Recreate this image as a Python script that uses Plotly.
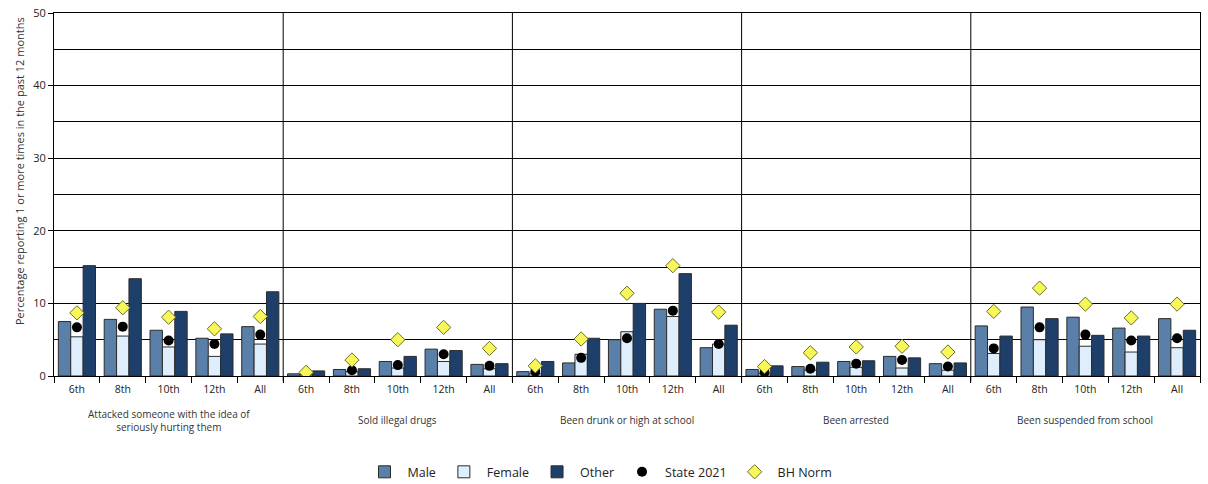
import plotly.graph_objects as go

PANELS = ["Attacked someone with the idea of<br>seriously hurting them", "Sold illegal drugs",
          "Been drunk or high at school", "Been arrested", "Been suspended from school"]
GRADES = ["6th", "8th", "10th", "12th", "All"]

MALE = [7.5, 7.8, 6.3, 5.2, 6.8,
        0.3, 0.9, 2.0, 3.7, 1.6,
        0.6, 1.8, 5.0, 9.2, 3.9,
        0.9, 1.3, 2.0, 2.7, 1.7,
        6.9, 9.5, 8.1, 6.6, 7.9]
FEMALE = [5.4, 5.5, 4.0, 2.7, 4.4,
          0.2, 0.6, 1.1, 2.0, 1.0,
          0.3, 3.0, 6.1, 8.2, 4.4,
          0.3, 0.8, 1.2, 1.1, 0.8,
          3.1, 5.0, 4.1, 3.3, 3.9]
OTHER = [15.2, 13.4, 8.9, 5.8, 11.6,
         0.7, 1.0, 2.7, 3.5, 1.7,
         2.0, 5.2, 10.0, 14.1, 7.0,
         1.4, 1.9, 2.1, 2.5, 1.8,
         5.5, 7.9, 5.6, 5.5, 6.3]
STATE_2021 = [6.7, 6.8, 4.9, 4.4, 5.7,
              0.4, 0.8, 1.5, 3.0, 1.4,
              0.6, 2.5, 5.2, 9.0, 4.4,
              0.5, 1.0, 1.7, 2.2, 1.3,
              3.8, 6.7, 5.7, 4.9, 5.2]
BH_NORM = [8.7, 9.4, 8.1, 6.5, 8.2,
           0.5, 2.2, 5.0, 6.7, 3.8,
           1.4, 5.1, 11.4, 15.2, 8.8,
           1.3, 3.2, 4.0, 4.1, 3.3,
           8.9, 12.1, 9.9, 8.0, 9.9]

INK = "#333333"
keys = [f"{p}|{g}" for p in range(len(PANELS)) for g in GRADES]
labels = [g for p in PANELS for g in GRADES]

fig = go.Figure()
bar_style = dict(marker_line=dict(color="#2b2b2b", width=1))
fig.add_trace(go.Bar(x=keys, y=MALE, name="Male", marker_color="#5a7fa8", **bar_style))
fig.add_trace(go.Bar(x=keys, y=FEMALE, name="Female", marker_color="#deeefc", **bar_style))
fig.add_trace(go.Bar(x=keys, y=OTHER, name="Other", marker_color="#1f3f6b", **bar_style))
fig.add_trace(go.Scatter(x=keys, y=STATE_2021, name="State 2021", mode="markers",
                         marker=dict(symbol="circle", size=10, color="black")))
fig.add_trace(go.Scatter(x=keys, y=BH_NORM, name="BH Norm", mode="markers",
                         marker=dict(symbol="diamond", size=11, color="#f7f75a",
                                     line=dict(color="#6b6b2a", width=1))))

n = len(GRADES)
for i in range(1, len(PANELS)):
    fig.add_shape(type="line", xref="x", yref="paper", x0=i * n - 0.5, x1=i * n - 0.5,
                  y0=-0.015, y1=1, line=dict(color="black", width=1))
for i, p in enumerate(PANELS):
    fig.add_annotation(x=keys[i * n + 2], xref="x", y=-0.122, yref="paper", text=p,
                       showarrow=False, yanchor="middle", font=dict(size=10, color=INK))
# y-axis title, placed as in the source (sits a bit above the plot middle)
fig.add_annotation(x=-0.0295, xref="paper", y=0.565, yref="paper", textangle=-90,
                   text="Percentage reporting 1 or more times in the past 12 months",
                   showarrow=False, xanchor="center", yanchor="middle",
                   font=dict(size=11, color=INK))

fig.update_layout(
    template=None, width=1208, height=484, paper_bgcolor="white", plot_bgcolor="white",
    font=dict(family="Open Sans, sans-serif", color=INK, size=11),
    margin=dict(l=54, r=8, t=13, b=108, autoexpand=False),
    barmode="group", bargap=0.19, bargroupgap=0,
    xaxis=dict(type="category", tickmode="array", tickvals=keys, ticktext=labels,
               tickson="boundaries", ticks="outside", ticklen=6, tickcolor="black",
               showline=True, linecolor="black", mirror=True, showgrid=False, automargin=False,
               range=[-0.5, len(keys) - 0.5], tickfont=dict(size=10.5, color="#222"),
               ticklabelstandoff=3),
    yaxis=dict(range=[0, 50], tickvals=[0, 10, 20, 30, 40, 50], showgrid=True,
               gridcolor="black", gridwidth=1, zeroline=False, showline=True, automargin=False,
               linecolor="black", mirror=True, ticks="outside", ticklen=5, tickcolor="black",
               tickfont=dict(color="#222"),
               minor=dict(dtick=5, tick0=0, showgrid=True, gridcolor="black", gridwidth=1, ticks="")),
    legend=dict(orientation="h", x=0.476, xanchor="center", y=-0.265, yanchor="middle",
                font=dict(size=12.5, color="#222"), itemwidth=36, traceorder="normal"),
)

# the page's default body margin would shift the fixed-size figure
fig.write_html("out.html", config={"displayModeBar": False},
               post_script="document.body.style.margin='0';")
